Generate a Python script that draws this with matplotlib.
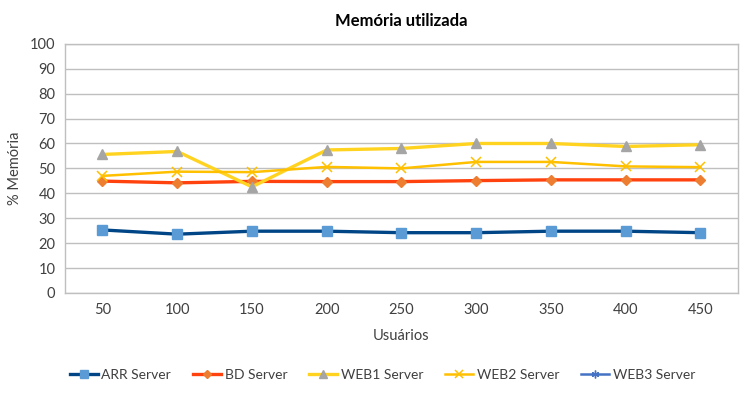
import numpy as np
import matplotlib
matplotlib.use("Agg")
import matplotlib.pyplot as plt

# dados
usuarios = ["50", "100", "150", "200", "250", "300", "350", "400", "450"]
arr_server = [25.3, 23.6, 24.8, 24.8, 24.2, 24.2, 24.8, 24.8, 24.2]
bd_server = [44.9, 44.2, 44.8, 44.7, 44.7, 45.1, 45.4, 45.4, 45.4]
web1_server = [55.6, 56.8, 42.6, 57.4, 58.0, 60.0, 60.0, 58.8, 59.5]
web2_server = [47.0, 48.7, 48.5, 50.6, 50.0, 52.6, 52.6, 50.8, 50.5]
web3_server = [np.nan] * 9   # sem valores visíveis

plt.rcParams['font.family'] = ['Lato', 'DejaVu Sans']

fig = plt.figure(figsize=(7.4, 3.93), dpi=100)
ax = fig.add_axes([0.088, 0.2545, 0.909, 0.634])

x = np.arange(len(usuarios))
ax.plot(x, arr_server, color='#004586', lw=2.4, marker='s', ms=6.5,
        mfc='#5B9BD5', mec='#5B9BD5', label='ARR Server', zorder=3)
ax.plot(x, bd_server, color='#FF420E', lw=2.4, marker='D', ms=5,
        mfc='#ED7D31', mec='#ED7D31', label='BD Server', zorder=3)
ax.plot(x, web1_server, color='#FFD320', lw=2.4, marker='^', ms=7.5,
        mfc='#A5A5A5', mec='#A5A5A5', label='WEB1 Server', zorder=3)
ax.plot(x, web2_server, color='#FFC000', lw=1.8, marker='x', ms=6.5,
        mew=1.1, mec='#FFC000', label='WEB2 Server', zorder=3)
ax.plot(x, web3_server, color='#4472C4', lw=1.8, marker=(6, 2, 0), ms=7,
        mew=1.0, label='WEB3 Server', zorder=3)

ax.set_xlim(-0.5, len(usuarios) - 0.5)
ax.set_ylim(0, 100)
ax.set_yticks(range(0, 101, 10))
ax.set_xticks(x)
ax.set_xticklabels(usuarios)
ax.tick_params(length=0, labelsize=10.5, colors='#404040', pad=7)
ax.grid(axis='y', color='#BFBFBF', lw=1.0)
ax.set_axisbelow(True)
for s in ax.spines.values():
    s.set_color('#BFBFBF')
    s.set_linewidth(1.0)

ax.set_title('Memória utilizada', fontsize=12, fontweight='bold', pad=13)
ax.set_xlabel('Usuários', fontsize=10.5, color='#404040', labelpad=9)
ax.set_ylabel('% Memória', fontsize=10.5, color='#404040', labelpad=6)

ax.legend(loc='upper center', bbox_to_anchor=(0.472, -0.255), ncol=5,
          frameon=False, fontsize=10, handlelength=2.0, columnspacing=1.6,
          handletextpad=0.25, markerscale=0.8, labelcolor='#404040')

fig.savefig('out.png', dpi=100)
